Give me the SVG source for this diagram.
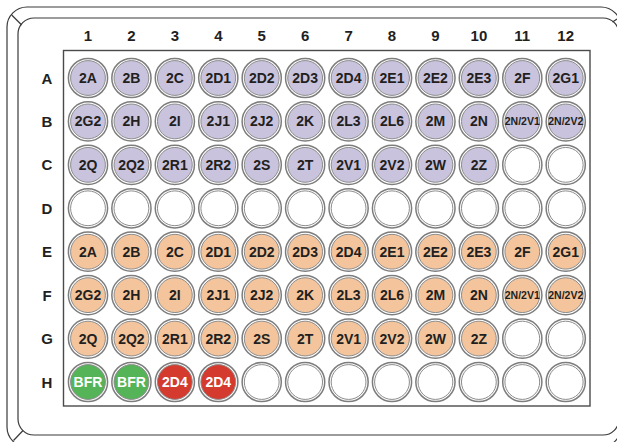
<svg xmlns="http://www.w3.org/2000/svg" width="617" height="442" viewBox="0 0 617 442">
<style>
.plate{fill:none;stroke:#3a3a3a;stroke-width:1.2}
.grid{fill:#fff;stroke:#4a4a4a;stroke-width:1.4}
.ring{fill:#fff;stroke:#7d7d7d;stroke-width:1.5}
.in{stroke:#8c8c8c;stroke-width:1}
.lav{fill:#c9c3de}
.pch{fill:#f4c59c}
.grn{fill:#55b457}
.red{fill:#d53a2f}
.emp{fill:#fff}
.lbl{font-family:"Liberation Sans",Arial,sans-serif;font-weight:bold;font-size:15px;fill:#231f20;text-anchor:middle}
.t{font-family:"Liberation Sans",Arial,sans-serif;font-weight:bold;font-size:14px;fill:#231f20;text-anchor:middle}
.s{font-family:"Liberation Sans",Arial,sans-serif;font-weight:bold;font-size:10.5px;fill:#231f20;text-anchor:middle}
.w{fill:#fff}
</style>
<rect width="617" height="442" fill="#fff"/>
<g id="plate">
<rect class="plate" x="7" y="7" width="614" height="440" rx="20"/>
<rect class="plate" x="18" y="18" width="601" height="417" rx="16"/>
<line class="plate" x1="11.7" y1="15" x2="21.7" y2="25"/>
<line class="plate" x1="13.5" y1="440.5" x2="23" y2="430.5"/>
<line class="plate" x1="612.5" y1="22" x2="617" y2="19"/>
<rect class="grid" x="63.5" y="50.5" width="526.5" height="355.5"/>
</g>
<g id="column-labels">
<text class="lbl" x="88" y="41">1</text>
<text class="lbl" x="131.4" y="41">2</text>
<text class="lbl" x="174.9" y="41">3</text>
<text class="lbl" x="218.3" y="41">4</text>
<text class="lbl" x="261.7" y="41">5</text>
<text class="lbl" x="305.2" y="41">6</text>
<text class="lbl" x="348.6" y="41">7</text>
<text class="lbl" x="392" y="41">8</text>
<text class="lbl" x="435.4" y="41">9</text>
<text class="lbl" x="478.9" y="41">10</text>
<text class="lbl" x="522.3" y="41">11</text>
<text class="lbl" x="565.7" y="41">12</text>
</g>
<g id="row-labels">
<text class="lbl" x="47" y="83.5">A</text>
<text class="lbl" x="47" y="126.9">B</text>
<text class="lbl" x="47" y="170.4">C</text>
<text class="lbl" x="47" y="213.8">D</text>
<text class="lbl" x="47" y="257.2">E</text>
<text class="lbl" x="47" y="300.7">F</text>
<text class="lbl" x="47" y="344.1">G</text>
<text class="lbl" x="47" y="387.5">H</text>
</g>
<g id="wells">
<!-- Row A -->
<g id="A1" transform="translate(88,78)"><circle class="ring" r="19.6"/><circle class="in lav" r="17.4"/><text class="t" y="5">2A</text></g>
<g id="A2" transform="translate(131.43,78)"><circle class="ring" r="19.6"/><circle class="in lav" r="17.4"/><text class="t" y="5">2B</text></g>
<g id="A3" transform="translate(174.86,78)"><circle class="ring" r="19.6"/><circle class="in lav" r="17.4"/><text class="t" y="5">2C</text></g>
<g id="A4" transform="translate(218.29,78)"><circle class="ring" r="19.6"/><circle class="in lav" r="17.4"/><text class="t" y="5">2D1</text></g>
<g id="A5" transform="translate(261.72,78)"><circle class="ring" r="19.6"/><circle class="in lav" r="17.4"/><text class="t" y="5">2D2</text></g>
<g id="A6" transform="translate(305.15,78)"><circle class="ring" r="19.6"/><circle class="in lav" r="17.4"/><text class="t" y="5">2D3</text></g>
<g id="A7" transform="translate(348.58,78)"><circle class="ring" r="19.6"/><circle class="in lav" r="17.4"/><text class="t" y="5">2D4</text></g>
<g id="A8" transform="translate(392.01,78)"><circle class="ring" r="19.6"/><circle class="in lav" r="17.4"/><text class="t" y="5">2E1</text></g>
<g id="A9" transform="translate(435.44,78)"><circle class="ring" r="19.6"/><circle class="in lav" r="17.4"/><text class="t" y="5">2E2</text></g>
<g id="A10" transform="translate(478.87,78)"><circle class="ring" r="19.6"/><circle class="in lav" r="17.4"/><text class="t" y="5">2E3</text></g>
<g id="A11" transform="translate(522.3,78)"><circle class="ring" r="19.6"/><circle class="in lav" r="17.4"/><text class="t" y="5">2F</text></g>
<g id="A12" transform="translate(565.73,78)"><circle class="ring" r="19.6"/><circle class="in lav" r="17.4"/><text class="t" y="5">2G1</text></g>
<!-- Row B -->
<g id="B1" transform="translate(88,121.43)"><circle class="ring" r="19.6"/><circle class="in lav" r="17.4"/><text class="t" y="5">2G2</text></g>
<g id="B2" transform="translate(131.43,121.43)"><circle class="ring" r="19.6"/><circle class="in lav" r="17.4"/><text class="t" y="5">2H</text></g>
<g id="B3" transform="translate(174.86,121.43)"><circle class="ring" r="19.6"/><circle class="in lav" r="17.4"/><text class="t" y="5">2I</text></g>
<g id="B4" transform="translate(218.29,121.43)"><circle class="ring" r="19.6"/><circle class="in lav" r="17.4"/><text class="t" y="5">2J1</text></g>
<g id="B5" transform="translate(261.72,121.43)"><circle class="ring" r="19.6"/><circle class="in lav" r="17.4"/><text class="t" y="5">2J2</text></g>
<g id="B6" transform="translate(305.15,121.43)"><circle class="ring" r="19.6"/><circle class="in lav" r="17.4"/><text class="t" y="5">2K</text></g>
<g id="B7" transform="translate(348.58,121.43)"><circle class="ring" r="19.6"/><circle class="in lav" r="17.4"/><text class="t" y="5">2L3</text></g>
<g id="B8" transform="translate(392.01,121.43)"><circle class="ring" r="19.6"/><circle class="in lav" r="17.4"/><text class="t" y="5">2L6</text></g>
<g id="B9" transform="translate(435.44,121.43)"><circle class="ring" r="19.6"/><circle class="in lav" r="17.4"/><text class="t" y="5">2M</text></g>
<g id="B10" transform="translate(478.87,121.43)"><circle class="ring" r="19.6"/><circle class="in lav" r="17.4"/><text class="t" y="5">2N</text></g>
<g id="B11" transform="translate(522.3,121.43)"><circle class="ring" r="19.6"/><circle class="in lav" r="17.4"/><text class="s" y="3.8">2N/2V1</text></g>
<g id="B12" transform="translate(565.73,121.43)"><circle class="ring" r="19.6"/><circle class="in lav" r="17.4"/><text class="s" y="3.8">2N/2V2</text></g>
<!-- Row C -->
<g id="C1" transform="translate(88,164.86)"><circle class="ring" r="19.6"/><circle class="in lav" r="17.4"/><text class="t" y="5">2Q</text></g>
<g id="C2" transform="translate(131.43,164.86)"><circle class="ring" r="19.6"/><circle class="in lav" r="17.4"/><text class="t" y="5">2Q2</text></g>
<g id="C3" transform="translate(174.86,164.86)"><circle class="ring" r="19.6"/><circle class="in lav" r="17.4"/><text class="t" y="5">2R1</text></g>
<g id="C4" transform="translate(218.29,164.86)"><circle class="ring" r="19.6"/><circle class="in lav" r="17.4"/><text class="t" y="5">2R2</text></g>
<g id="C5" transform="translate(261.72,164.86)"><circle class="ring" r="19.6"/><circle class="in lav" r="17.4"/><text class="t" y="5">2S</text></g>
<g id="C6" transform="translate(305.15,164.86)"><circle class="ring" r="19.6"/><circle class="in lav" r="17.4"/><text class="t" y="5">2T</text></g>
<g id="C7" transform="translate(348.58,164.86)"><circle class="ring" r="19.6"/><circle class="in lav" r="17.4"/><text class="t" y="5">2V1</text></g>
<g id="C8" transform="translate(392.01,164.86)"><circle class="ring" r="19.6"/><circle class="in lav" r="17.4"/><text class="t" y="5">2V2</text></g>
<g id="C9" transform="translate(435.44,164.86)"><circle class="ring" r="19.6"/><circle class="in lav" r="17.4"/><text class="t" y="5">2W</text></g>
<g id="C10" transform="translate(478.87,164.86)"><circle class="ring" r="19.6"/><circle class="in lav" r="17.4"/><text class="t" y="5">2Z</text></g>
<g id="C11" transform="translate(522.3,164.86)"><circle class="ring" r="19.6"/><circle class="in emp" r="17.4"/></g>
<g id="C12" transform="translate(565.73,164.86)"><circle class="ring" r="19.6"/><circle class="in emp" r="17.4"/></g>
<!-- Row D -->
<g id="D1" transform="translate(88,208.29)"><circle class="ring" r="19.6"/><circle class="in emp" r="17.4"/></g>
<g id="D2" transform="translate(131.43,208.29)"><circle class="ring" r="19.6"/><circle class="in emp" r="17.4"/></g>
<g id="D3" transform="translate(174.86,208.29)"><circle class="ring" r="19.6"/><circle class="in emp" r="17.4"/></g>
<g id="D4" transform="translate(218.29,208.29)"><circle class="ring" r="19.6"/><circle class="in emp" r="17.4"/></g>
<g id="D5" transform="translate(261.72,208.29)"><circle class="ring" r="19.6"/><circle class="in emp" r="17.4"/></g>
<g id="D6" transform="translate(305.15,208.29)"><circle class="ring" r="19.6"/><circle class="in emp" r="17.4"/></g>
<g id="D7" transform="translate(348.58,208.29)"><circle class="ring" r="19.6"/><circle class="in emp" r="17.4"/></g>
<g id="D8" transform="translate(392.01,208.29)"><circle class="ring" r="19.6"/><circle class="in emp" r="17.4"/></g>
<g id="D9" transform="translate(435.44,208.29)"><circle class="ring" r="19.6"/><circle class="in emp" r="17.4"/></g>
<g id="D10" transform="translate(478.87,208.29)"><circle class="ring" r="19.6"/><circle class="in emp" r="17.4"/></g>
<g id="D11" transform="translate(522.3,208.29)"><circle class="ring" r="19.6"/><circle class="in emp" r="17.4"/></g>
<g id="D12" transform="translate(565.73,208.29)"><circle class="ring" r="19.6"/><circle class="in emp" r="17.4"/></g>
<!-- Row E -->
<g id="E1" transform="translate(88,251.72)"><circle class="ring" r="19.6"/><circle class="in pch" r="17.4"/><text class="t" y="5">2A</text></g>
<g id="E2" transform="translate(131.43,251.72)"><circle class="ring" r="19.6"/><circle class="in pch" r="17.4"/><text class="t" y="5">2B</text></g>
<g id="E3" transform="translate(174.86,251.72)"><circle class="ring" r="19.6"/><circle class="in pch" r="17.4"/><text class="t" y="5">2C</text></g>
<g id="E4" transform="translate(218.29,251.72)"><circle class="ring" r="19.6"/><circle class="in pch" r="17.4"/><text class="t" y="5">2D1</text></g>
<g id="E5" transform="translate(261.72,251.72)"><circle class="ring" r="19.6"/><circle class="in pch" r="17.4"/><text class="t" y="5">2D2</text></g>
<g id="E6" transform="translate(305.15,251.72)"><circle class="ring" r="19.6"/><circle class="in pch" r="17.4"/><text class="t" y="5">2D3</text></g>
<g id="E7" transform="translate(348.58,251.72)"><circle class="ring" r="19.6"/><circle class="in pch" r="17.4"/><text class="t" y="5">2D4</text></g>
<g id="E8" transform="translate(392.01,251.72)"><circle class="ring" r="19.6"/><circle class="in pch" r="17.4"/><text class="t" y="5">2E1</text></g>
<g id="E9" transform="translate(435.44,251.72)"><circle class="ring" r="19.6"/><circle class="in pch" r="17.4"/><text class="t" y="5">2E2</text></g>
<g id="E10" transform="translate(478.87,251.72)"><circle class="ring" r="19.6"/><circle class="in pch" r="17.4"/><text class="t" y="5">2E3</text></g>
<g id="E11" transform="translate(522.3,251.72)"><circle class="ring" r="19.6"/><circle class="in pch" r="17.4"/><text class="t" y="5">2F</text></g>
<g id="E12" transform="translate(565.73,251.72)"><circle class="ring" r="19.6"/><circle class="in pch" r="17.4"/><text class="t" y="5">2G1</text></g>
<!-- Row F -->
<g id="F1" transform="translate(88,295.15)"><circle class="ring" r="19.6"/><circle class="in pch" r="17.4"/><text class="t" y="5">2G2</text></g>
<g id="F2" transform="translate(131.43,295.15)"><circle class="ring" r="19.6"/><circle class="in pch" r="17.4"/><text class="t" y="5">2H</text></g>
<g id="F3" transform="translate(174.86,295.15)"><circle class="ring" r="19.6"/><circle class="in pch" r="17.4"/><text class="t" y="5">2I</text></g>
<g id="F4" transform="translate(218.29,295.15)"><circle class="ring" r="19.6"/><circle class="in pch" r="17.4"/><text class="t" y="5">2J1</text></g>
<g id="F5" transform="translate(261.72,295.15)"><circle class="ring" r="19.6"/><circle class="in pch" r="17.4"/><text class="t" y="5">2J2</text></g>
<g id="F6" transform="translate(305.15,295.15)"><circle class="ring" r="19.6"/><circle class="in pch" r="17.4"/><text class="t" y="5">2K</text></g>
<g id="F7" transform="translate(348.58,295.15)"><circle class="ring" r="19.6"/><circle class="in pch" r="17.4"/><text class="t" y="5">2L3</text></g>
<g id="F8" transform="translate(392.01,295.15)"><circle class="ring" r="19.6"/><circle class="in pch" r="17.4"/><text class="t" y="5">2L6</text></g>
<g id="F9" transform="translate(435.44,295.15)"><circle class="ring" r="19.6"/><circle class="in pch" r="17.4"/><text class="t" y="5">2M</text></g>
<g id="F10" transform="translate(478.87,295.15)"><circle class="ring" r="19.6"/><circle class="in pch" r="17.4"/><text class="t" y="5">2N</text></g>
<g id="F11" transform="translate(522.3,295.15)"><circle class="ring" r="19.6"/><circle class="in pch" r="17.4"/><text class="s" y="3.8">2N/2V1</text></g>
<g id="F12" transform="translate(565.73,295.15)"><circle class="ring" r="19.6"/><circle class="in pch" r="17.4"/><text class="s" y="3.8">2N/2V2</text></g>
<!-- Row G -->
<g id="G1" transform="translate(88,338.58)"><circle class="ring" r="19.6"/><circle class="in pch" r="17.4"/><text class="t" y="5">2Q</text></g>
<g id="G2" transform="translate(131.43,338.58)"><circle class="ring" r="19.6"/><circle class="in pch" r="17.4"/><text class="t" y="5">2Q2</text></g>
<g id="G3" transform="translate(174.86,338.58)"><circle class="ring" r="19.6"/><circle class="in pch" r="17.4"/><text class="t" y="5">2R1</text></g>
<g id="G4" transform="translate(218.29,338.58)"><circle class="ring" r="19.6"/><circle class="in pch" r="17.4"/><text class="t" y="5">2R2</text></g>
<g id="G5" transform="translate(261.72,338.58)"><circle class="ring" r="19.6"/><circle class="in pch" r="17.4"/><text class="t" y="5">2S</text></g>
<g id="G6" transform="translate(305.15,338.58)"><circle class="ring" r="19.6"/><circle class="in pch" r="17.4"/><text class="t" y="5">2T</text></g>
<g id="G7" transform="translate(348.58,338.58)"><circle class="ring" r="19.6"/><circle class="in pch" r="17.4"/><text class="t" y="5">2V1</text></g>
<g id="G8" transform="translate(392.01,338.58)"><circle class="ring" r="19.6"/><circle class="in pch" r="17.4"/><text class="t" y="5">2V2</text></g>
<g id="G9" transform="translate(435.44,338.58)"><circle class="ring" r="19.6"/><circle class="in pch" r="17.4"/><text class="t" y="5">2W</text></g>
<g id="G10" transform="translate(478.87,338.58)"><circle class="ring" r="19.6"/><circle class="in pch" r="17.4"/><text class="t" y="5">2Z</text></g>
<g id="G11" transform="translate(522.3,338.58)"><circle class="ring" r="19.6"/><circle class="in emp" r="17.4"/></g>
<g id="G12" transform="translate(565.73,338.58)"><circle class="ring" r="19.6"/><circle class="in emp" r="17.4"/></g>
<!-- Row H -->
<g id="H1" transform="translate(88,382.01)"><circle class="ring" r="19.6"/><circle class="in grn" r="17.4"/><text class="t w" y="5">BFR</text></g>
<g id="H2" transform="translate(131.43,382.01)"><circle class="ring" r="19.6"/><circle class="in grn" r="17.4"/><text class="t w" y="5">BFR</text></g>
<g id="H3" transform="translate(174.86,382.01)"><circle class="ring" r="19.6"/><circle class="in red" r="17.4"/><text class="t w" y="5">2D4</text></g>
<g id="H4" transform="translate(218.29,382.01)"><circle class="ring" r="19.6"/><circle class="in red" r="17.4"/><text class="t w" y="5">2D4</text></g>
<g id="H5" transform="translate(261.72,382.01)"><circle class="ring" r="19.6"/><circle class="in emp" r="17.4"/></g>
<g id="H6" transform="translate(305.15,382.01)"><circle class="ring" r="19.6"/><circle class="in emp" r="17.4"/></g>
<g id="H7" transform="translate(348.58,382.01)"><circle class="ring" r="19.6"/><circle class="in emp" r="17.4"/></g>
<g id="H8" transform="translate(392.01,382.01)"><circle class="ring" r="19.6"/><circle class="in emp" r="17.4"/></g>
<g id="H9" transform="translate(435.44,382.01)"><circle class="ring" r="19.6"/><circle class="in emp" r="17.4"/></g>
<g id="H10" transform="translate(478.87,382.01)"><circle class="ring" r="19.6"/><circle class="in emp" r="17.4"/></g>
<g id="H11" transform="translate(522.3,382.01)"><circle class="ring" r="19.6"/><circle class="in emp" r="17.4"/></g>
<g id="H12" transform="translate(565.73,382.01)"><circle class="ring" r="19.6"/><circle class="in emp" r="17.4"/></g>
</g>
<g id="connectors"/>
</svg>
